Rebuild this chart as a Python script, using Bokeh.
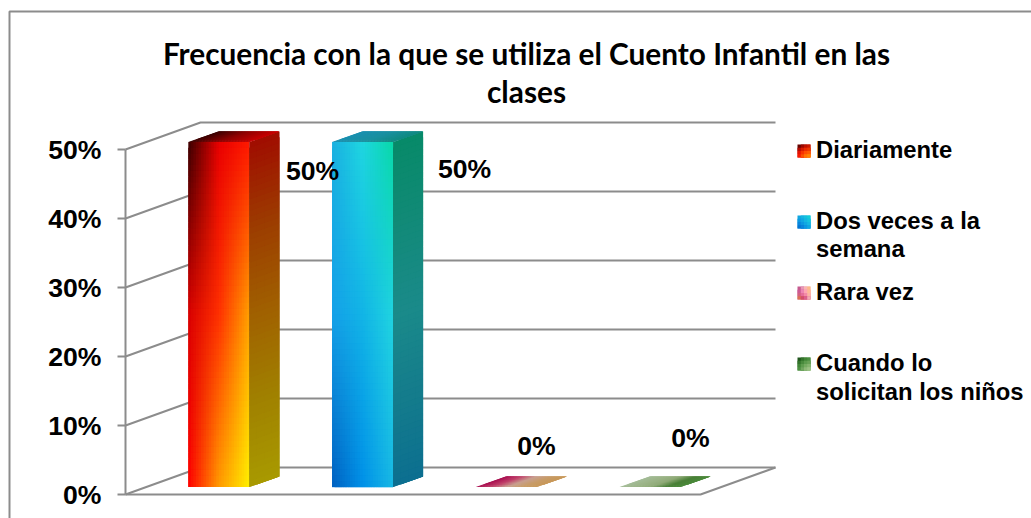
from bokeh.plotting import figure
from bokeh.embed import file_html
from bokeh.resources import INLINE
from bokeh.core.properties import value
from bokeh.models import Range1d, FixedTicker, ColumnDataSource

# ---- data
title_text = "Frecuencia con la que se utiliza el Cuento Infantil en las\nclases"
categories = ["Diariamente", "Dos veces a la\nsemana", "Rara vez", "Cuando lo\nsolicitan los niños"]
percent = [50, 50, 0, 0]
data_labels = ["50%", "50%", "0%", "0%"]
tick_values = [0, 10, 20, 30, 40, 50]
tick_labels = ["0%", "10%", "20%", "30%", "40%", "50%"]

# ---- layout (picture pixels)
PX_CAT = 143.75          # pixels per category
PX_PCT = 6.9             # pixels per percent
X0, Y0 = 125, 494        # position of the origin
W, H = 1031, 518
def dx(px): return px / PX_CAT
def dy(px): return px / PX_PCT
def X(px): return (px - X0) / PX_CAT
def Y(px): return (Y0 - px) / PX_PCT

WALL_X, WALL_Y = dx(75), dy(27)
BAR_OFF, BAR_W = dx(62.8), dx(61)
BAR_BASE = dy(7.4)
DEPTH_X, DEPTH_Y = dx(30), dy(10.5)
GRAY = "#8c8c8c"
SANS = "Liberation Sans"

p = figure(width=W, height=H, output_backend="svg", toolbar_location=None,
           x_axis_location=None, y_axis_location="left",
           x_range=Range1d(X(0), X(W)),
           y_range=Range1d(Y(H), Y(0)),
           min_border_left=0, min_border_right=0, min_border_top=0, min_border_bottom=0,
           background_fill_color="white", border_fill_color="white")
p.grid.visible = False
p.outline_line_color = None

ax = p.yaxis[0]
ax.fixed_location = 0
ax.ticker = FixedTicker(ticks=tick_values)
ax.major_label_overrides = dict(zip(tick_values, tick_labels))
ax.bounds = (tick_values[0], tick_values[-1])
ax.axis_line_color = GRAY
ax.axis_line_width = 2
ax.major_tick_line_color = GRAY
ax.major_tick_line_width = 2
ax.major_tick_in = 0
ax.major_tick_out = 8
ax.minor_tick_line_color = None
ax.major_label_standoff = 16
ax.major_label_text_font = SANS
ax.major_label_text_font_style = "bold"
ax.major_label_text_font_size = "26.6px"
ax.major_label_text_color = "black"

# outer chart border (top and left only)
p.line([X(9), X(9), X(W)], [Y(H), Y(11), Y(11)], line_color=GRAY, line_width=2)

# walls and floor
n = len(categories)
wx, wy = [], []
for t in tick_values:
    wx.append([0, WALL_X, n + WALL_X])
    wy.append([t, t + WALL_Y, t + WALL_Y])
wx.append([0, n, n + WALL_X])
wy.append([0, 0, WALL_Y])
p.multi_line(wx, wy, line_color=GRAY, line_width=2)


def hexrgb(h):
    return tuple(int(h[i:i + 2], 16) for i in (1, 3, 5))


def bilinear(grid, u, v):
    rows, cols = len(grid), len(grid[0])
    fr, fc = v * (rows - 1), u * (cols - 1)
    r0 = min(int(fr), rows - 2) if rows > 1 else 0
    c0 = min(int(fc), cols - 2) if cols > 1 else 0
    tr, tc = (fr - r0 if rows > 1 else 0), (fc - c0 if cols > 1 else 0)
    r1, c1 = min(r0 + 1, rows - 1), min(c0 + 1, cols - 1)
    out = []
    for k in range(3):
        a = hexrgb(grid[r0][c0])[k] * (1 - tc) + hexrgb(grid[r0][c1])[k] * tc
        b = hexrgb(grid[r1][c0])[k] * (1 - tc) + hexrgb(grid[r1][c1])[k] * tc
        out.append(int(round(a * (1 - tr) + b * tr)))
    return "#%02x%02x%02x" % tuple(out)


# face colours, top row to bottom row
front = [
    [["#3a0000", "#e80000", "#ff1800"], ["#d80000", "#ff3000", "#ffa000"], ["#ff0000", "#ff9a00", "#fff000"]],
    [["#1ab0e0", "#1fd6e0", "#08d8a8"], ["#14a0e8", "#12b4e6", "#20d4e0"], ["#0060c0", "#0090e8", "#18b8e4"]],
    None, None]
side = [
    [["#a00c00"], ["#9c3c00"], ["#a06000"], ["#a08000"], ["#a89a00"]],
    [["#078a68"], ["#128a78"], ["#1a8a8a"], ["#147c8c"], ["#0c6f90"]],
    None, None]
top = [
    [["#3a0000", "#900000", "#c80000"]],
    [["#1a90b0", "#1a90a0", "#108a80"]],
    [["#a80f50", "#c0406a", "#c8a090", "#c89c68", "#c89858"]],
    [["#a4bc98", "#9cb488", "#90ab78", "#4a8038", "#4a8a3a"]]]
swatch = [
    [["#200000", "#a00000", "#c01000"], ["#d00000", "#ff3000", "#ff5000"], ["#ff0000", "#ff8000", "#ffa000"]],
    [["#10a8e0", "#18c0e0", "#10d8d0"], ["#0888e0", "#10a8e4", "#18c8e0"], ["#0060c8", "#0888e0", "#10a8e4"]],
    [["#b03878", "#f8c0c8", "#fcb868"], ["#c04888", "#ff90c0", "#ffc890"], ["#e89830", "#c02060", "#ffd0d8"]],
    [["#103810", "#307828", "#408838"], ["#307828", "#60a050", "#80b068"], ["#408838", "#90b878", "#b0d098"]]]

fx, fy, fc = [], [], []


def face(origin, du, dv, colors, nu, nv):
    """origin = (x, y) of the u=0, v=0 corner; du, dv = edge vectors.
    Each cell overlaps the next one, later cells paint over the overlap, so no seams show."""
    for j in range(nv):
        v0, v1 = j / nv, min(1, (j + 2) / nv)
        for i in range(nu):
            u0, u1 = i / nu, min(1, (i + 2) / nu)
            pts = ((u0, v0), (u1, v0), (u1, v1), (u0, v1))
            fx.append([origin[0] + du[0] * a + dv[0] * b for a, b in pts])
            fy.append([origin[1] + du[1] * a + dv[1] * b for a, b in pts])
            fc.append(bilinear(colors, (i + .5) / nu, (j + .5) / nv))


for i, val in enumerate(percent):
    x0, x1 = i + BAR_OFF, i + BAR_OFF + BAR_W
    y1 = BAR_BASE + val
    if val > 0:
        face((x0, y1), (BAR_W, 0), (0, -val), front[i], 24, 60)
        face((x1, y1), (DEPTH_X, DEPTH_Y), (0, -val), side[i], 4, 60)
    face((x0, y1), (BAR_W, 0), (DEPTH_X, DEPTH_Y), top[i], 40, 4)

# legend swatches (pixelated in the reference)
leg_y = [150.5, 221.5, 292.5, 363.5]
for k in range(n):
    face((X(797), Y(leg_y[k] - 6.5)), (dx(13), 0), (0, -dy(13)), swatch[k], 4, 4)

src = ColumnDataSource(dict(xs=fx, ys=fy, color=fc))
p.patches("xs", "ys", source=src, fill_color="color", line_color=None)

# data labels
lab_cx = [312, 464, 536, 690]
lab_cy = [170, 168, 445, 437]
p.text([X(c) for c in lab_cx], [Y(c) for c in lab_cy], text=data_labels,
       text_font=value(SANS), text_font_style="bold", text_font_size="26.6px",
       text_align="center", text_baseline="middle", text_color="black")

# legend text
leg_line_y = [[149], [220, 248], [291], [362, 391]]
lx, ly, lt = [], [], []
for name, ys in zip(categories, leg_line_y):
    for part, yy in zip(name.split("\n"), ys):
        lx.append(X(815.5)); ly.append(Y(yy)); lt.append(part)
p.text(lx, ly, text=lt, text_font=value(SANS), text_font_style="bold", text_font_size="23.8px",
       text_align="left", text_baseline="middle", text_color="black")

# title
p.text([X(526), X(526)], [Y(53), Y(91)], text=title_text.split("\n"),
       text_font=value("Lato"), text_font_style="bold", text_font_size="29.8px",
       text_align="center", text_baseline="middle", text_color="black")

open("out.html", "w").write(file_html(p, INLINE))
